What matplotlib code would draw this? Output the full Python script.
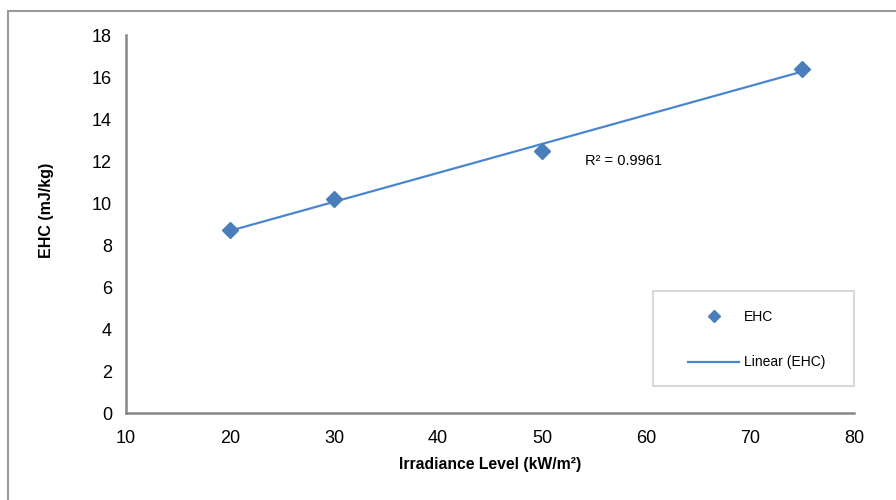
"""
EHC vs irradiance level with a linear trendline.
"""

import numpy as np
import matplotlib
matplotlib.use('Agg')
import matplotlib.pyplot as plt
from matplotlib.lines import Line2D
from matplotlib.patches import Rectangle

plt.rcParams['font.family'] = ['Liberation Sans', 'DejaVu Sans']

# Data
irradiance = [20, 30, 50, 75]
ehc = [8.7, 10.2, 12.5, 16.4]
r2_label = 'R² = 0.9961'

x_ticks = [10, 20, 30, 40, 50, 60, 70, 80]
y_ticks = [0, 2, 4, 6, 8, 10, 12, 14, 16, 18]

marker_color = '#4a7ebb'
line_color = '#4a86d0'
axis_color = '#868686'


def main():
    fig = plt.figure(figsize=(8.96, 5), dpi=100)
    ax = fig.add_axes([126 / 896, 87 / 500, 728 / 896, 378 / 500])

    # outer chart frame
    fig.patches.append(Rectangle((8 / 896, -0.1), 2, 1 - 11 / 500 + 0.1,
                                 transform=fig.transFigure, fill=False,
                                 edgecolor='#9a9a9a', linewidth=1.5))

    x = np.array(irradiance, dtype=float)
    y = np.array(ehc, dtype=float)
    slope, intercept = np.polyfit(x, y, 1)
    xs = np.array([x.min(), x.max()])

    ax.plot(xs, slope * xs + intercept, color=line_color, linewidth=1.6, zorder=2)
    ax.plot(x, y, linestyle='none', marker='D', markersize=8.5,
            color=marker_color, zorder=3)

    ax.text(54.1, 12.0, r2_label, fontsize=10.5, va='center', ha='left')

    ax.set_xlim(10, 80)
    ax.set_ylim(0, 18)
    ax.set_xticks(x_ticks)
    ax.set_yticks(y_ticks)
    ax.tick_params(axis='both', length=0, labelsize=13)
    ax.tick_params(axis='x', pad=12)
    ax.tick_params(axis='y', pad=10)

    for side in ['top', 'right']:
        ax.spines[side].set_visible(False)
    for side in ['left', 'bottom']:
        ax.spines[side].set_color(axis_color)
        ax.spines[side].set_linewidth(1.8)

    ax.set_xlabel('Irradiance Level (kW/m²)', fontsize=11.3, fontweight='bold', va='center')
    ax.xaxis.set_label_coords(0.5, -(465 - 413) / 378, transform=ax.transAxes)
    ax.set_ylabel('EHC (mJ/kg)', fontsize=11.5, fontweight='bold', va='center')
    ax.yaxis.set_label_coords((46 - 126) / 728, (290 - 87) / 378, transform=ax.transAxes)

    # legend box, then the entries inside it
    fig.patches.append(Rectangle((653 / 896, 114 / 500), 201 / 896, 95 / 500,
                                 transform=fig.transFigure, fill=False,
                                 edgecolor='#d9d9d9', linewidth=1.5))
    handles = [
        Line2D([], [], linestyle='none', marker='D', markersize=6, color=marker_color),
        Line2D([], [], color=line_color, linewidth=1.6),
    ]
    fig.legend(handles, ['EHC', 'Linear (EHC)'],
               bbox_to_anchor=(688 / 896, (500 - 339.5) / 500),
               loc='center left', borderaxespad=0, borderpad=0,
               fontsize=10, handlelength=3.7, handletextpad=0.35,
               labelspacing=2.3, frameon=False)

    fig.savefig('out.png', dpi=100)
    plt.close(fig)


if __name__ == "__main__":
    main()
